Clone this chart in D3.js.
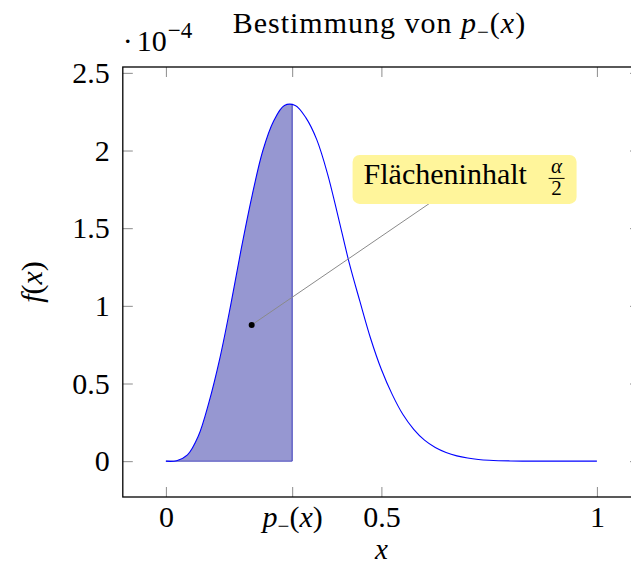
<!DOCTYPE html>
<html>
<head>
<meta charset="utf-8">
<script src="https://cdn.jsdelivr.net/npm/d3@7"></script>
<style>
  body{margin:0;background:#fff;}
  svg{display:block;}
  text{font-family:"Liberation Serif","Times New Roman",serif;fill:#000;}
</style>
</head>
<body>
<div class="chart"></div>
<script>
/* density values, f in units of 1e-4 */
var xs=[0,0.025,0.05,0.075,0.1,0.125,0.15,0.175,0.2,0.225,0.25,0.275,0.3,0.325,0.35,0.375,0.4,0.425,0.45,0.475,0.5,0.525,0.55,0.575,0.6,0.625,0.65,0.675,0.7,0.725,0.75,0.8,0.85,0.9,0.95,1];
var fx=[0,0.003,0.04,0.16,0.38,0.66,1.0,1.37,1.71,2.0,2.19,2.29,2.29,2.21,2.07,1.85,1.57,1.28,1.03,0.79,0.59,0.43,0.3,0.205,0.135,0.088,0.056,0.034,0.02,0.011,0.006,0.0015,0.0003,0,0,0];

var pMinus=0.293;              // boundary of the shaded area
var yTicks=[0,0.5,1,1.5,2,2.5];
var yTickLabels=["0","0.5","1","1.5","2","2.5"];
var xTicks=[0,pMinus,0.5,1];
var xTickLabels=["0","p","0.5","1"];  // "p" gets replaced by p_-(x)
var markPoint=[0.199,0.877];   // dot of the annotation
var labelPoint=[0.693,1.814];  // centre of the yellow label

var data=xs.map(function(d,i){return {x:d,f:fx[i]};});

/*dimensions*/
var width=631, height=565;
var box={left:122.8, right:640, top:67, bottom:497};
var fs=30, fsSmall=21;

var xScale=d3.scaleLinear().domain([-0.1,1.1]).range([box.left,box.right]);
var yScale=d3.scaleLinear().domain([-0.2307,2.5377]).range([box.bottom,box.top]);

var svg=d3.select(".chart").append("svg")
  .attr("width",width).attr("height",height);

var defs=svg.append("defs");
defs.append("clipPath").attr("id","plotClip")
  .append("rect")
  .attr("x",box.left).attr("y",box.top)
  .attr("width",box.right-box.left).attr("height",box.bottom-box.top);

defs.append("clipPath").attr("id","leftClip")
  .append("rect")
  .attr("x",xScale(0)).attr("y",box.top)
  .attr("width",xScale(pMinus)-xScale(0)).attr("height",box.bottom-box.top);

var area=d3.area()
  .x(function(d){return xScale(d.x);})
  .y0(yScale(0))
  .y1(function(d){return yScale(d.f);})
  .curve(d3.curveCatmullRom.alpha(0.5));

var line=d3.line()
  .x(function(d){return xScale(d.x);})
  .y(function(d){return yScale(d.f);})
  .curve(d3.curveCatmullRom.alpha(0.5));

// clip for the right edge line of the shading
defs.append("clipPath").attr("id","areaClip")
  .append("path").attr("d",area(data));

var plot=svg.append("g").attr("clip-path","url(#plotClip)");

// shaded area up to p_-(x)
plot.append("g").attr("clip-path","url(#leftClip)")
  .append("path")
  .attr("d",area(data))
  .attr("fill","#9697d1")
  .attr("stroke","none");

plot.append("line")
  .attr("clip-path","url(#areaClip)")
  .attr("x1",xScale(pMinus)).attr("x2",xScale(pMinus))
  .attr("y1",yScale(0)).attr("y2",box.top)
  .attr("stroke","#4e4ec0").attr("stroke-width",1.2);

plot.append("line")
  .attr("x1",xScale(0)).attr("x2",xScale(pMinus))
  .attr("y1",yScale(0)).attr("y2",yScale(0))
  .attr("stroke","#4e4ec0").attr("stroke-width",1);

// density curve
plot.append("path")
  .attr("d",line(data))
  .attr("fill","none")
  .attr("stroke","#0000ff")
  .attr("stroke-width",1.1);

/*axes, ticks inside on all four sides*/
function styleAxis(g){
  g.select(".domain").remove();
  g.selectAll(".tick line").attr("stroke","#8c8c8c").attr("stroke-width",1);
  g.selectAll(".tick text").style("font-size",fs+"px").style("font-family","Liberation Serif, serif");
}

var xAxis=d3.axisBottom(xScale).tickValues(xTicks).tickSize(-10)
  .tickFormat(function(d,i){return xTickLabels[i];});
var gx=svg.append("g").attr("class","x-axis")
  .attr("transform","translate(0,"+box.bottom+")")
  .call(xAxis).call(styleAxis);
gx.selectAll(".tick text").attr("y",30).attr("dy",0);

// p_-(x) label
gx.selectAll(".tick text").filter(function(d){return d===pMinus;})
  .text(null)
  .call(function(t){
    t.append("tspan").style("font-style","italic").text("p");
    t.append("tspan").attr("dy",6).style("font-size",fsSmall+"px").text("\u2212");
    t.append("tspan").attr("dy",-6).text("(");
    t.append("tspan").style("font-style","italic").text("x");
    t.append("tspan").text(")");
  });

svg.append("g")
  .attr("transform","translate(0,"+box.top+")")
  .call(d3.axisTop(xScale).tickValues(xTicks).tickSize(-10).tickFormat(""))
  .call(styleAxis);

var yAxis=d3.axisLeft(yScale).tickValues(yTicks).tickSize(-10).tickPadding(13)
  .tickFormat(function(d,i){return yTickLabels[i];});
svg.append("g").attr("class","y-axis")
  .attr("transform","translate("+box.left+",0)")
  .call(yAxis).call(styleAxis);

svg.append("g")
  .attr("transform","translate("+box.right+",0)")
  .call(d3.axisRight(yScale).tickValues(yTicks).tickSize(-10).tickFormat(""))
  .call(styleAxis);

// frame
svg.append("rect")
  .attr("x",box.left).attr("y",box.top)
  .attr("width",box.right-box.left).attr("height",box.bottom-box.top)
  .attr("fill","none").attr("stroke","#000").attr("stroke-width",1.3);

/*annotation*/
var cx=xScale(labelPoint[0]), cy=yScale(labelPoint[1]);
svg.append("line")
  .attr("x1",xScale(markPoint[0])).attr("y1",yScale(markPoint[1]))
  .attr("x2",cx).attr("y2",cy)
  .attr("stroke","#8a8a8a").attr("stroke-width",1);

svg.append("circle")
  .attr("cx",xScale(markPoint[0])).attr("cy",yScale(markPoint[1]))
  .attr("r",3).attr("fill","#000");

var bw=224, bh=49;
svg.append("rect")
  .attr("x",cx-bw/2).attr("y",cy-bh/2)
  .attr("width",bw).attr("height",bh)
  .attr("rx",7).attr("ry",7)
  .attr("fill","#fff59b");

svg.append("text")
  .attr("x",cx-bw/2+11).attr("y",cy+5)
  .style("font-size",fs+"px")
  .text("Flächeninhalt");

var fracX=cx+92;
svg.append("text")
  .attr("x",fracX).attr("y",cy-6)
  .attr("text-anchor","middle")
  .style("font-size",fsSmall+"px").style("font-style","italic")
  .text("\u03b1");
svg.append("line")
  .attr("x1",fracX-8).attr("x2",fracX+8)
  .attr("y1",cy-1).attr("y2",cy-1)
  .attr("stroke","#000").attr("stroke-width",1);
svg.append("text")
  .attr("x",fracX).attr("y",cy+16)
  .attr("text-anchor","middle")
  .style("font-size",fsSmall+"px")
  .text("2");

/*labels*/
var title=svg.append("text")
  .attr("x",(box.left+box.right)/2-2).attr("y",33)
  .attr("text-anchor","middle")
  .style("font-size",fs+"px")
  .style("letter-spacing","1px");
title.append("tspan").text("Bestimmung von ");
title.append("tspan").style("font-style","italic").text("p");
title.append("tspan").attr("dy",6).style("font-size",fsSmall+"px").text("\u2212");
title.append("tspan").attr("dy",-6).text("(");
title.append("tspan").style("font-style","italic").text("x");
title.append("tspan").text(")");

var scaleLab=svg.append("text")
  .attr("x",box.left).attr("y",51)
  .style("font-size",fs+"px");
scaleLab.append("tspan").text("\u00b7");
scaleLab.append("tspan").attr("dx",4).text("10");
scaleLab.append("tspan").attr("dx",1).attr("dy",-13).style("font-size","23px").text("\u22124");

svg.append("text")
  .attr("x",xScale(0.5)).attr("y",559)
  .attr("text-anchor","middle")
  .style("font-size","29px").style("font-style","italic")
  .text("x");

var yl=svg.append("text")
  .attr("transform","translate(42,282) rotate(-90)")
  .attr("text-anchor","middle")
  .style("font-size",fs+"px");
yl.append("tspan").style("font-style","italic").text("f");
yl.append("tspan").text("(");
yl.append("tspan").style("font-style","italic").text("x");
yl.append("tspan").text(")");
</script>
</body>
</html>
